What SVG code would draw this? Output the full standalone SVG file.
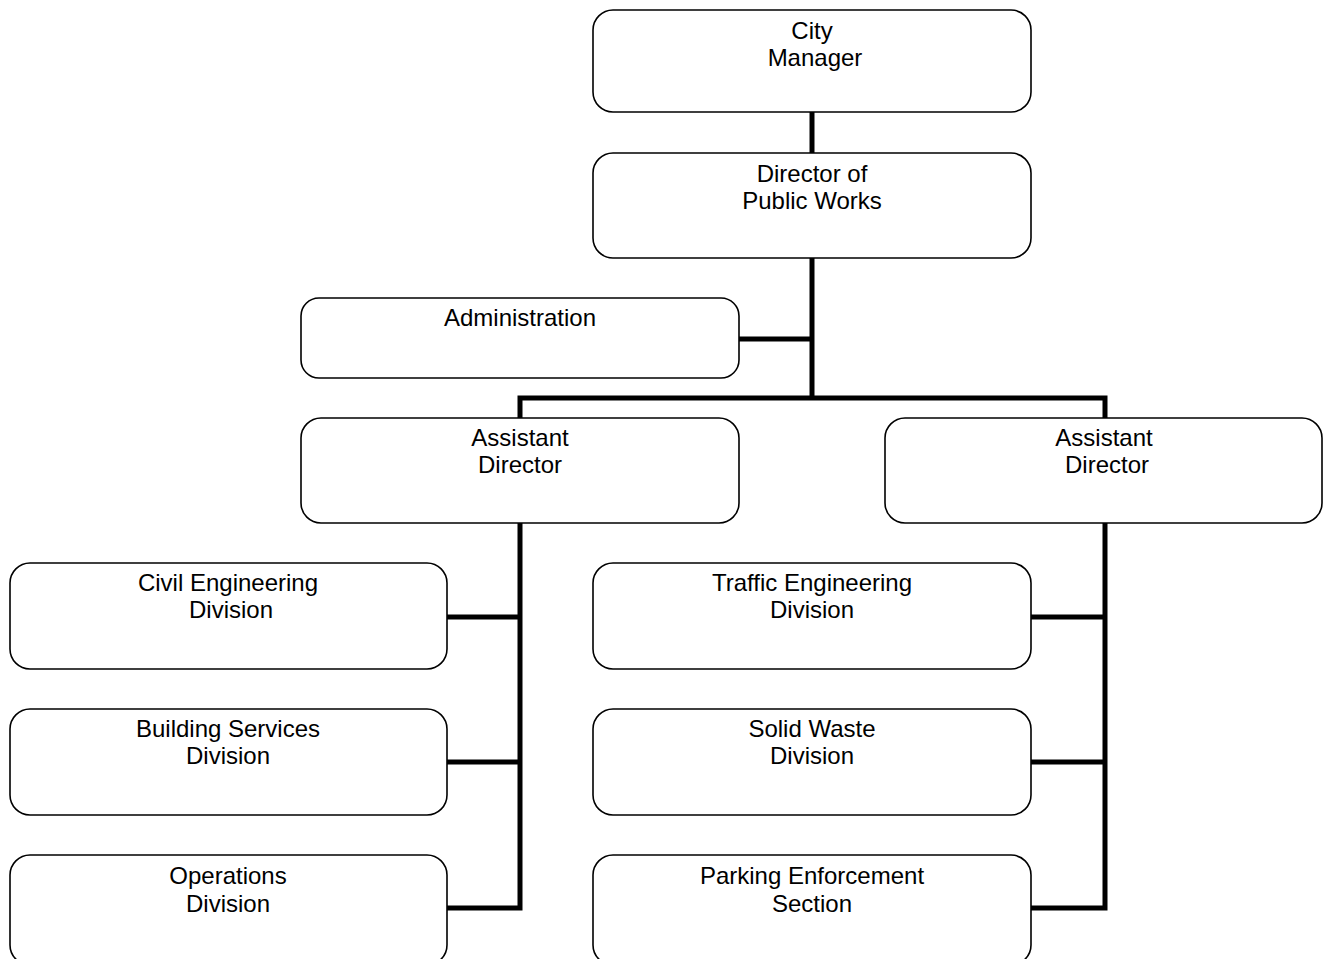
<svg xmlns="http://www.w3.org/2000/svg" width="1323" height="959" viewBox="0 0 1323 959">
<style>
.box{fill:#fff;stroke:#000;stroke-width:1.6}
.t{font-family:"Liberation Sans",Arial,sans-serif;font-size:24px;fill:#000;text-anchor:middle}
.c{fill:none;stroke:#000;stroke-width:5}
</style>
<rect width="1323" height="959" fill="#fff"/>
<g id="connectors">
<line class="c" x1="812" y1="112" x2="812" y2="153"/>
<line class="c" x1="812" y1="258" x2="812" y2="400"/>
<line class="c" x1="739" y1="339" x2="812" y2="339"/>
<polyline class="c" points="520,418 520,398 1105,398 1105,418"/>
<polyline class="c" points="447,617 520,617"/>
<polyline class="c" points="447,762 520,762"/>
<polyline class="c" points="520,523 520,908 447,908"/>
<polyline class="c" points="1031,617 1105,617"/>
<polyline class="c" points="1031,762 1105,762"/>
<polyline class="c" points="1105,523 1105,908 1031,908"/>
</g>
<g id="city-manager"><rect class="box" x="593" y="10" width="438" height="102" rx="20"/><text class="t" x="812" y="39">City</text><text class="t" x="815" y="66">Manager</text></g>
<g id="director"><rect class="box" x="593" y="153" width="438" height="105" rx="20"/><text class="t" x="812" y="182">Director of</text><text class="t" x="812" y="209">Public Works</text></g>
<g id="administration"><rect class="box" x="301" y="298" width="438" height="80" rx="18"/><text class="t" x="520" y="326">Administration</text></g>
<g id="asst-left"><rect class="box" x="301" y="418" width="438" height="105" rx="20"/><text class="t" x="520" y="446">Assistant</text><text class="t" x="520" y="473">Director</text></g>
<g id="asst-right"><rect class="box" x="885" y="418" width="437" height="105" rx="20"/><text class="t" x="1104" y="446">Assistant</text><text class="t" x="1107" y="473">Director</text></g>
<g id="civil"><rect class="box" x="10" y="563" width="437" height="106" rx="20"/><text class="t" x="228" y="591">Civil Engineering</text><text class="t" x="231" y="618">Division</text></g>
<g id="building"><rect class="box" x="10" y="709" width="437" height="106" rx="20"/><text class="t" x="228" y="737">Building Services</text><text class="t" x="228" y="764">Division</text></g>
<g id="operations"><rect class="box" x="10" y="855" width="437" height="110" rx="20"/><text class="t" x="228" y="884">Operations</text><text class="t" x="228" y="912">Division</text></g>
<g id="traffic"><rect class="box" x="593" y="563" width="438" height="106" rx="20"/><text class="t" x="812" y="591">Traffic Engineering</text><text class="t" x="812" y="618">Division</text></g>
<g id="solid-waste"><rect class="box" x="593" y="709" width="438" height="106" rx="20"/><text class="t" x="812" y="737">Solid Waste</text><text class="t" x="812" y="764">Division</text></g>
<g id="parking"><rect class="box" x="593" y="855" width="438" height="110" rx="20"/><text class="t" x="812" y="884">Parking Enforcement</text><text class="t" x="812" y="912">Section</text></g>
</svg>
